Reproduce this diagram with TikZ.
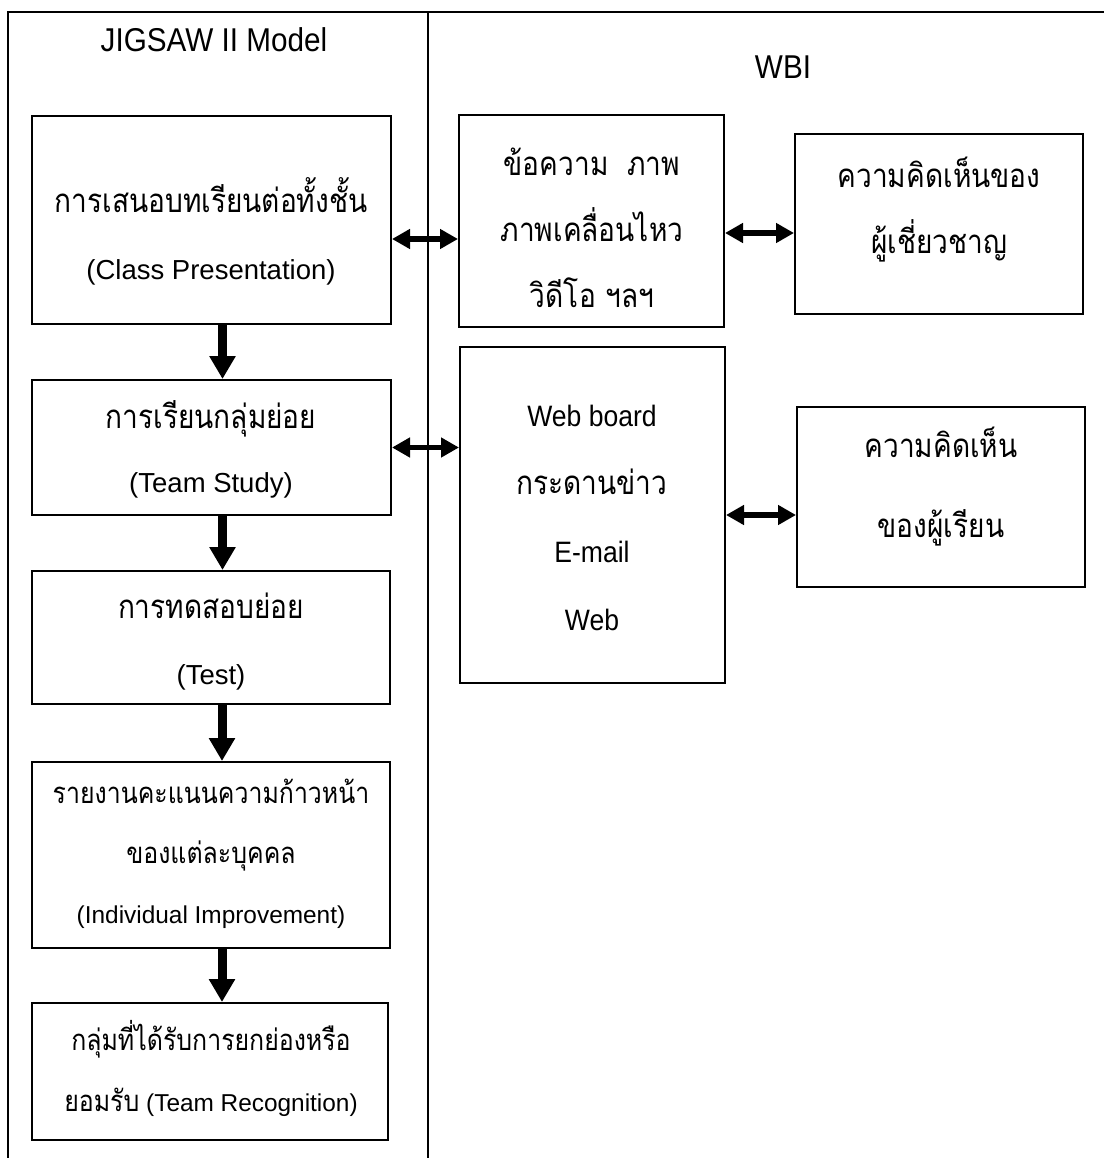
\documentclass[tikz,border=0pt]{standalone}
\usepackage{fontspec}
\setmainfont{Liberation Sans}
\newfontfamily\cond[FakeStretch=0.9]{Liberation Sans}
\newfontfamily\thai[Script=Thai,Scale=1.2,FakeStretch=0.85]{Loma}
\usetikzlibrary{arrows.meta}
\tikzstyle{frame} = [line width=1.6pt]
\tikzstyle{box} = [rectangle, draw, line width=2pt, inner sep=0pt]
\tikzstyle{txt} = [align=center, font=\fontsize{27.5}{67}\selectfont]
\tikzstyle{smalltxt} = [align=center, font=\fontsize{24.4}{60}\selectfont]
\tikzstyle{title} = [font=\cond\fontsize{33}{36}\selectfont]
\tikzstyle{down} = [line width=9pt, -{Triangle[width=25pt,length=23pt]}]
\tikzstyle{both} = [line width=5.5pt, {Triangle[width=19pt,length=18pt]}-{Triangle[width=19pt,length=18pt]}]

\begin{document}
\begin{tikzpicture}[x=1pt, y=-1pt]
    \useasboundingbox (0,0) rectangle (1104,1158);
    % Frame
    \draw[frame] (8,1158) -- (8,12) -- (1104,12);
    \draw[frame] (428,12) -- (428,1158);
    \node[title] (jig) at (214,40) {JIGSAW II Model};
    \node[title] (wbi) at (783,67) {WBI};

    % JIGSAW II steps
    \node[box, minimum width=359, minimum height=208] (l1) at (211.5,220) {};
    \node[box, minimum width=359, minimum height=135] (l2) at (211.5,447.5) {};
    \node[box, minimum width=358, minimum height=133] (l3) at (211,637.5) {};
    \node[box, minimum width=358, minimum height=186] (l4) at (211,855) {};
    \node[box, minimum width=356, minimum height=137] (l5) at (210,1071.5) {};
    \node[txt] (l1t) at (211,231) {{\thai การเสนอบทเรียนต่อทั้งชั้น}\\(Class Presentation)};
    \node[txt, font=\fontsize{27.5}{64}\selectfont] (l2t) at (211,449) {{\thai การเรียนกลุ่มย่อย}\\(Team Study)};
    \node[txt, font=\fontsize{27.5}{66}\selectfont] (l3t) at (211,642) {{\thai การทดสอบย่อย}\\(Test)};
    \node[smalltxt] (l4t) at (211,854) {{\thai รายงานคะแนนความก้าวหน้า}\\{\thai ของแต่ละบุคคล}\\(Individual Improvement)};
    \node[smalltxt, font=\fontsize{24.4}{61}\selectfont] (l5t) at (211,1068) {{\thai กลุ่มที่ได้รับการยกย่องหรือ}\\{\thai ยอมรับ} (Team Recognition)};

    % WBI tools
    \node[box, minimum width=265, minimum height=212] (m1) at (591.5,221) {};
    \node[box, minimum width=265, minimum height=336] (m2) at (592.5,515) {};
    \node[box, minimum width=288, minimum height=180] (r1) at (939,224) {};
    \node[box, minimum width=288, minimum height=180] (r2) at (941,497) {};
    \node[txt, font=\fontsize{27.5}{66}\selectfont] (m1t) at (592,228) {{\thai ข้อความ~~ภาพ}\\{\thai ภาพเคลื่อนไหว}\\{\thai วิดีโอ ฯลฯ}};
    \node[txt, font=\cond\fontsize{29.5}{68}\selectfont] (m2t) at (592,518) {Web board\\{\fontsize{27.5}{68}\selectfont\thai กระดานข่าว}\\E-mail\\Web};
    \node[txt, font=\fontsize{27.5}{66}\selectfont] (r1t) at (939,210) {{\thai ความคิดเห็นของ}\\{\thai ผู้เชี่ยวชาญ}};
    \node[txt, font=\fontsize{27.5}{80}\selectfont] (r2t) at (941,487) {{\thai ความคิดเห็น}\\{\thai ของผู้เรียน}};

    % Arrows
    \draw[down] ([xshift=11pt]l1.south) -- ([xshift=11pt]l1.south |- l2.north);
    \draw[down] ([xshift=11pt]l2.south) -- ([xshift=11pt]l2.south |- l3.north);
    \draw[down] ([xshift=11pt]l3.south) -- ([xshift=11pt]l3.south |- l4.north);
    \draw[down] ([xshift=11pt]l4.south) -- ([xshift=11pt]l4.south |- l5.north);
    \draw[both] ([yshift=-19pt]l1.east) -- ([yshift=-19pt]l1.east -| m1.west);
    \draw[both] (l2.east) -- (l2.east -| m2.west);
    \draw[both] ([yshift=-12pt]m1.east) -- ([yshift=-12pt]m1.east -| r1.west);
    \draw[both] (m2.east) -- (m2.east -| r2.west);
\end{tikzpicture}
\end{document}
